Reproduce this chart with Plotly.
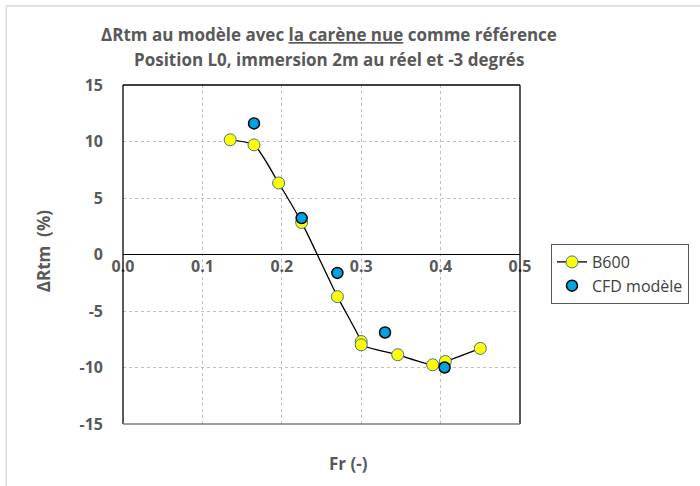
import plotly.graph_objects as go

# Froude number and resistance change (%) for the towed B600 runs
fr_b600 = [0.135, 0.165, 0.196, 0.225, 0.270, 0.300, 0.300, 0.346, 0.390, 0.406, 0.450]
drtm_b600 = [10.15, 9.70, 6.33, 2.84, -3.73, -7.70, -7.99, -8.87, -9.76, -9.47, -8.31]

# CFD results at model scale
fr_cfd = [0.165, 0.225, 0.270, 0.330, 0.405]
drtm_cfd = [11.6, 3.22, -1.63, -6.90, -10.0]

x_ticks = [0.0, 0.1, 0.2, 0.3, 0.4, 0.5]
y_ticks = [-15, -10, -5, 0, 5, 10, 15]

title_lines = [
    "ΔRtm au modèle avec <u>la carène nue</u> comme référence",
    "Position L0, immersion 2m au réel et -3 degrés",
]

W, H = 700, 486
ML, MR, MT, MB = 123, 179, 85, 62
pw, ph = W - ML - MR, H - MT - MB

FONT = "'Open Sans', Lato, sans-serif"
GREY = "#595959"


def px_x(px):
    return (px - ML) / pw


def px_y(py):
    return (H - MB - py) / ph


fig = go.Figure()
fig.add_trace(go.Scatter(
    x=fr_b600, y=drtm_b600, name="B600", mode="lines+markers",
    line=dict(color="black", width=1.3, shape="spline", smoothing=0.6),
    marker=dict(size=12, color="#ffff00", line=dict(color="#41719c", width=1)),
))
fig.add_trace(go.Scatter(
    x=fr_cfd, y=drtm_cfd, name="CFD modèle", mode="markers",
    marker=dict(size=11, color="#00a3e0", line=dict(color="black", width=1.5)),
))

fig.update_layout(
    width=W, height=H,
    margin=dict(l=ML, r=MR, t=MT, b=MB),
    paper_bgcolor="white", plot_bgcolor="white",
    font=dict(family=FONT, color=GREY),
    showlegend=True,
    legend=dict(
        x=px_x(551), y=px_y(244), xanchor="left", yanchor="top",
        bordercolor=GREY, borderwidth=1, bgcolor="white",
        font=dict(size=16, color="#404040", family=FONT),
        itemwidth=30, tracegroupgap=2,
    ),
    xaxis=dict(
        range=[0, 0.5], tickvals=x_ticks, ticktext=[f"{v:.1f}" for v in x_ticks],
        anchor="free", position=0.5, showline=False, ticks="",
        showgrid=True, gridcolor="#bfbfbf", griddash="dot", gridwidth=1,
        zeroline=False,
        tickfont=dict(size=16, color=GREY, family=FONT, weight="bold"),
    ),
    yaxis=dict(
        range=[-15, 15], tickvals=y_ticks, ticktext=[str(v) for v in y_ticks],
        ticks="", showline=False,
        showgrid=True, gridcolor="#bfbfbf", griddash="dot", gridwidth=1,
        zeroline=True, zerolinecolor="black", zerolinewidth=1,
        ticklabelstandoff=19,
        tickfont=dict(size=16, color=GREY, family=FONT, weight="bold"),
    ),
)

# two-line chart title
for text, py in zip(title_lines, [35, 60]):
    fig.add_annotation(text=text, xref="paper", yref="paper",
                       x=px_x(330), y=px_y(py), showarrow=False,
                       xanchor="center", yanchor="middle",
                       font=dict(size=17, color=GREY, family=FONT, weight="bold"))

# plot area frame
frame = [((0, 0), (0, 1), "black"), ((0, 1), (1, 1), "black"), ((1, 1), (1, 0), "black")]
for (xa, ya), (xb, yb), col in frame:
    fig.add_shape(type="line", xref="x domain", yref="y domain",
                  x0=xa, y0=ya, x1=xb, y1=yb, line=dict(color=col, width=1.3))
fig.add_shape(type="line", xref="x domain", yref="y domain", x0=0, x1=1, y0=0, y1=0,
              line=dict(color="#7f7f7f", width=1.5))

# outer chart border
fig.add_shape(type="rect", xref="paper", yref="paper",
              x0=px_x(6), x1=px_x(W + 20), y0=px_y(H + 20), y1=px_y(6),
              line=dict(color="#d9d9d9", width=1.5), fillcolor="rgba(0,0,0,0)", layer="below")

# axis titles
fig.add_annotation(text="Fr (-)", xref="paper", yref="paper",
                   x=px_x(349), y=px_y(463), showarrow=False,
                   xanchor="center", yanchor="middle",
                   font=dict(size=17, color=GREY, family=FONT, weight="bold"))
fig.add_annotation(text="ΔRtm  (%)", xref="paper", yref="paper",
                   x=px_x(43), y=px_y(251), showarrow=False,
                   textangle=-90, xanchor="center", yanchor="middle",
                   font=dict(size=17, color=GREY, family=FONT, weight="bold"))

fig.write_html("out.html")
